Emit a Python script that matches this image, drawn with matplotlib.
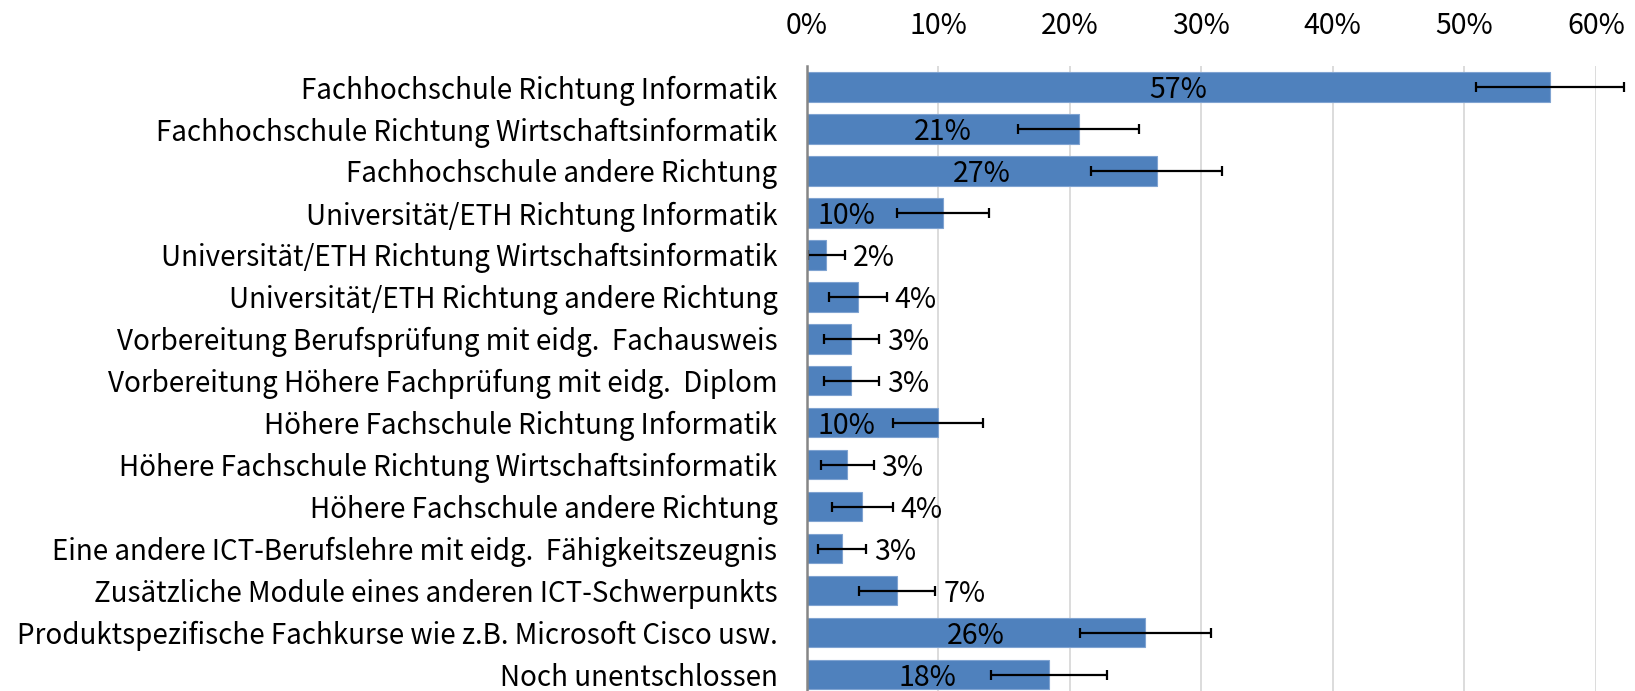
import matplotlib
matplotlib.use("Agg")
import matplotlib.pyplot as plt
from matplotlib.ticker import PercentFormatter, MultipleLocator


categories = [
    "Fachhochschule Richtung Informatik",
    "Fachhochschule Richtung Wirtschaftsinformatik",
    "Fachhochschule andere Richtung",
    "Universität/ETH Richtung Informatik",
    "Universität/ETH Richtung Wirtschaftsinformatik",
    "Universität/ETH Richtung andere Richtung",
    "Vorbereitung Berufsprüfung mit eidg.  Fachausweis",
    "Vorbereitung Höhere Fachprüfung mit eidg.  Diplom",
    "Höhere Fachschule Richtung Informatik",
    "Höhere Fachschule Richtung Wirtschaftsinformatik",
    "Höhere Fachschule andere Richtung",
    "Eine andere ICT-Berufslehre mit eidg.  Fähigkeitszeugnis",
    "Zusätzliche Module eines anderen ICT-Schwerpunkts",
    "Produktspezifische Fachkurse wie z.B. Microsoft Cisco usw.",
    "Noch unentschlossen",
]
values = [0.565, 0.207, 0.266, 0.104, 0.015, 0.039, 0.034, 0.034,
          0.100, 0.031, 0.0425, 0.027, 0.069, 0.2575, 0.184]
errors = [0.056, 0.046, 0.050, 0.035, 0.014, 0.022, 0.021, 0.021,
          0.034, 0.020, 0.023, 0.0185, 0.029, 0.050, 0.044]
value_labels = ["57%", "21%", "27%", "10%", "2%", "4%", "3%", "3%",
                "10%", "3%", "4%", "3%", "7%", "26%", "18%"]

BAR_COLOR = "#4F81BD"
FONT = ["Noto Sans CJK JP", "DejaVu Sans"]
FS = 20


def label_position(value, err):
    # mimic the hand-placed Excel labels
    if value >= 0.15:
        return value / 2, "center"
    if value >= 0.09:
        return 0.008, "left"
    return value + err + 0.006, "left"


def main():
    plt.rcParams["font.family"] = FONT
    fig = plt.figure(figsize=(16.35, 6.91), dpi=100)
    ax = fig.add_axes([0.4933, 0.0, 0.9761 - 0.4933, 1 - 66 / 691])

    y = list(range(len(categories)))
    ax.barh(y, values, height=0.7, color=BAR_COLOR, edgecolor="#7FA3D1",
            linewidth=0.8, zorder=2)
    ax.errorbar(values, y, xerr=errors, fmt="none", ecolor="black",
                elinewidth=1.6, capsize=3.6, capthick=1.6, zorder=3,
                clip_on=False)

    for yi, v, e, lab in zip(y, values, errors, value_labels):
        x, ha = label_position(v, e)
        ax.text(x, yi + 0.08, lab, ha=ha, va="center", fontsize=FS + 0.5, zorder=4)

    ax.set_xlim(0, 0.6)
    ax.set_ylim(14.39, -0.5)
    ax.xaxis.set_major_locator(MultipleLocator(0.1))
    ax.xaxis.set_major_formatter(PercentFormatter(1.0, decimals=0))
    ax.xaxis.tick_top()
    ax.tick_params(axis="x", length=0, pad=18, labelsize=FS + 0.5)
    ax.set_yticks(y)
    ax.set_yticklabels(categories)
    ax.tick_params(axis="y", length=0, pad=21, labelsize=FS)

    ax.grid(axis="x", color="#D9D9D9", linewidth=1.3, zorder=0)
    ax.set_axisbelow(True)
    for side in ("top", "right", "bottom"):
        ax.spines[side].set_visible(False)
    ax.spines["left"].set_color("#868686")
    ax.spines["left"].set_linewidth(1.8)
    ax.spines["left"].set_zorder(5)

    fig.savefig("out.png", dpi=100)
    plt.close(fig)


if __name__ == "__main__":
    main()
